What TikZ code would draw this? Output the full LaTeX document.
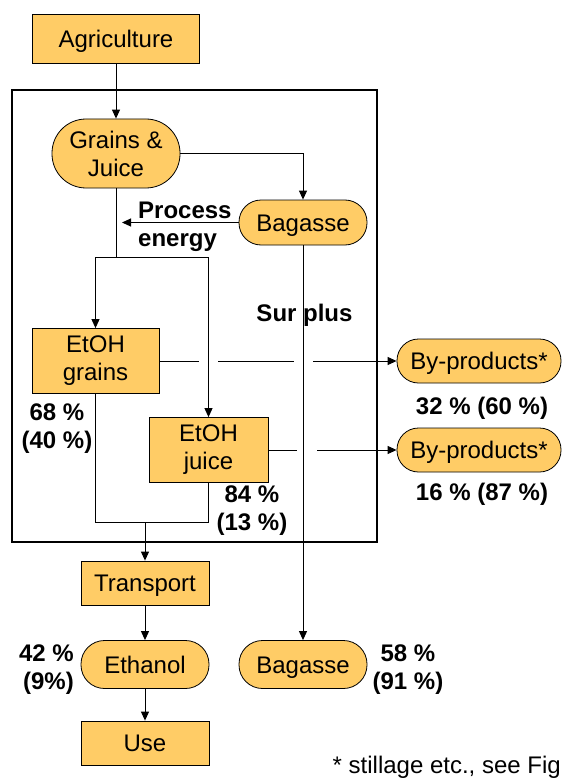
\documentclass[tikz,border=0pt]{standalone}
\usepackage{fontspec}
\setmainfont{Liberation Sans}
\usetikzlibrary{arrows.meta}
\definecolor{boxfill}{RGB}{255,204,102}
\tikzset{
  box/.style={draw, fill=boxfill, line width=0.8pt, inner sep=0pt, align=center,
    font=\fontsize{24}{28}\selectfont},
  pill/.style={box, rounded corners=#1},
  oneline/.style={text height=17.2pt, text depth=0pt},
  pct/.style={align=center, inner sep=0pt, font=\fontsize{24}{28}\selectfont\bfseries},
  wire/.style={line width=1pt},
  flow/.style={wire, -{Triangle[length=9pt,width=8pt]}}
}
\begin{document}
\begin{tikzpicture}[x=1pt,y=-1pt]
\useasboundingbox (0,0) rectangle (562,778);
% plant boundary
\draw[line width=2pt] (12,90) rectangle (377,542);
% nodes
\node[box, oneline, minimum width=167pt, minimum height=49pt] (agri) at (116,38.5) {Agriculture};
\node[pill=34pt, minimum width=128pt, minimum height=69pt] (grains) at (116,153.5) {Grains \&\\Juice};
\node[pill=22pt, oneline, minimum width=128pt, minimum height=45pt] (bagtop) at (303,222.5) {Bagasse};
\node[box, minimum width=127pt, minimum height=65pt] (etohg) at (95.5,361) {EtOH\\grains};
\node[box, minimum width=119pt, minimum height=65pt] (etohj) at (208.5,450) {EtOH\\juice};
\node[pill=21.5pt, oneline, minimum width=164pt, minimum height=44pt] (byp1) at (479,361) {By-products*};
\node[pill=21.5pt, oneline, minimum width=164pt, minimum height=44pt] (byp2) at (479,450) {By-products*};
\node[box, oneline, minimum width=128pt, minimum height=44pt] (trans) at (145,583) {Transport};
\node[pill=23.5pt, oneline, minimum width=128pt, minimum height=48pt] (ethanol) at (145,664.5) {Ethanol};
\node[pill=23.5pt, oneline, minimum width=128pt, minimum height=48pt] (bagbot) at (303,664.5) {Bagasse};
\node[box, oneline, minimum width=128pt, minimum height=44pt] (use) at (145,743) {Use};
% labels
\node[pct, anchor=west, align=left] (energy) at (138,227) {Process\\energy};
\node[pct] (surplus) at (304.5,315) {Sur plus};
\node[pct] (shareg) at (57,429) {68 \%\\(40 \%)};
\node[pct] (sharej) at (252,511) {84 \%\\(13 \%)};
\node[pct] (share1) at (482,408) {32 \% (60 \%)};
\node[pct] (share2) at (482,494) {16 \% (87 \%)};
\node[pct, anchor=east, align=right] (sharee) at (74,669.5) {42 \%\\(9\%)};
\node[pct] (shareb) at (408,670) {58 \%\\(91 \%)};
\node[anchor=base east, inner sep=0pt, font=\fontsize{24}{28}\selectfont] (note) at (561,773) {* stillage etc., see Fig};
% connectors
\coordinate (pe) at (122,222.5);
\coordinate (split) at (116,257);
\coordinate (merge) at (145,522);
\draw[flow] (agri) -- (grains);
\draw[flow] (grains.east) -| (bagtop.north);
\draw[flow] (bagtop.west) -- (pe);
\draw[wire] (grains.south) -- (split);
\draw[flow] (split) -| (etohg.north);
\draw[flow] (split) -| (etohj.north);
\draw[wire] (etohg.south) |- (merge);
\draw[wire] (etohj.south) |- (merge);
\draw[flow] (merge) -- (trans);
\draw[flow] (trans) -- (ethanol);
\draw[flow] (ethanol) -- (use);
\draw[flow] (bagtop) -- (bagbot);
% by-product lines, broken where they cross
\draw[wire] (etohg.east) -- (199,361) (218,361) -- (294,361);
\draw[flow] (313,361) -- (byp1.west);
\draw[wire] (etohj.east) -- (297,450);
\draw[flow] (317,450) -- (byp2.west);
\end{tikzpicture}
\end{document}
